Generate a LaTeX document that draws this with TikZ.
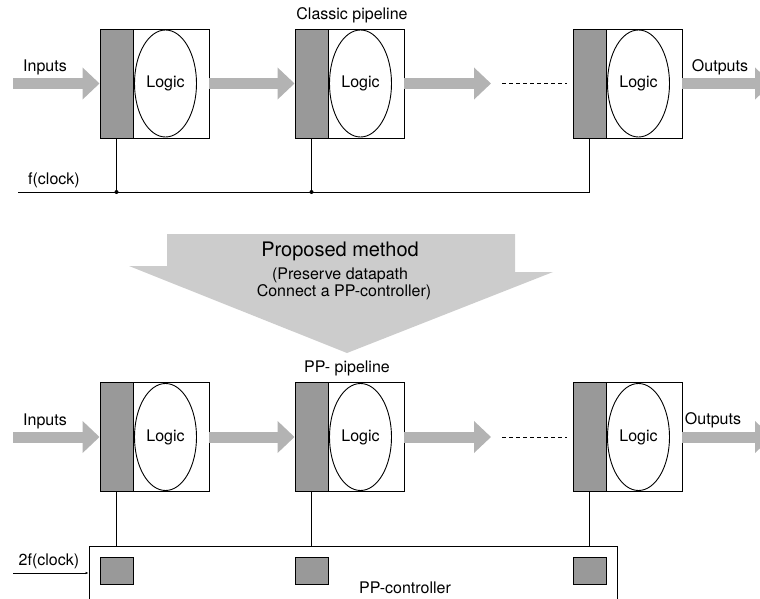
\documentclass[tikz,border=0pt]{standalone}
\usepackage{fontspec}
\setmainfont{TeX Gyre Heros}
\usetikzlibrary{arrows.meta,shapes.geometric}
\definecolor{regray}{HTML}{999999}
\definecolor{fatgray}{HTML}{B3B3B3}
\definecolor{biggray}{HTML}{CCCCCC}
\begin{document}
\begin{tikzpicture}[x=1pt,y=-1pt,
  stagebox/.style={draw,line width=0.9pt,minimum width=109pt,minimum height=109pt,inner sep=0pt},
  regbox/.style={draw,fill=regray,line width=0.9pt,minimum width=33pt,minimum height=109pt,inner sep=0pt},
  logic/.style={draw,ellipse,line width=0.9pt,minimum width=62pt,minimum height=107pt,inner sep=0pt,font=\fontsize{16}{19}\selectfont},
  fat/.style={draw=fatgray,line width=11pt,-{Triangle[length=17pt,width=31pt]}},
  lbl/.style={font=\fontsize{16}{19}\selectfont,inner sep=0pt},
  biglbl/.style={font=\fontsize{20}{24}\selectfont,inner sep=0pt},
  wire/.style={line width=0.8pt},
  dotted line/.style={line width=0.8pt,dash pattern=on 4pt off 3pt},
  jdot/.style={fill,circle,inner sep=0pt,minimum size=4pt},
  sq/.style={draw,fill=regray,line width=0.9pt,minimum width=33pt,minimum height=27pt,inner sep=0pt}
]
\useasboundingbox (0,0) rectangle (760,599);
\clip (0,0) rectangle (760,599);

% ---------- top: classic pipeline ----------
\foreach \i/\x in {1/100,2/295,3/573}{
  \node[stagebox] (t\i) at (\x+54.5,83.5) {};
  \node[regbox] (tr\i) at (\x+16.5,83.5) {};
  \node[logic] (tl\i) at (\x+65.5,83.5) {Logic};
}
\node[lbl] (tcap) at (352,15) {Classic pipeline};
\node[lbl] (tin) at (45,67) {Inputs};
\node[lbl] (tout) at (720,67) {Outputs};
\coordinate (tinstart) at (13,83.5);
\coordinate (t3out) at (491,83.5);
\coordinate (tdash1) at (502,83.5);
\coordinate (tdash2) at (567,83.5);
\coordinate (toutend) at (772,83.5);
\draw[fat] (tinstart) -- (t1.west);
\draw[fat] (t1.east) -- (t2.west);
\draw[fat] (t2.east) -- (t3out);
\draw[dotted line] (tdash1) -- (tdash2);
\draw[fat] (t3.east) -- (toutend);

\coordinate (clk) at (18,192);
\node[lbl] (clklbl) at (54,180) {f(clock)};
\draw[wire] (clk) -- (tr3.south |- clk) -- (tr3.south);
\draw[wire] (tr1.south) -- (tr1.south |- clk) node[jdot] (j1) {};
\draw[wire] (tr2.south) -- (tr2.south |- clk) node[jdot] (j2) {};

% ---------- big arrow ----------
\fill[biggray] (167,234) -- (515,234) -- (515,272) -- (553,272) -- (347,353) -- (129,266) -- (167,266) -- cycle;
\node[biglbl] (pm) at (340,251) {Proposed method};
\node[lbl] (pm1) at (340,275) {(Preserve datapath};
\node[lbl] (pm2) at (344,292) {Connect a PP-controller)};

% ---------- bottom: PP pipeline ----------
\foreach \i/\x in {1/100,2/295,3/573}{
  \node[stagebox] (b\i) at (\x+54.5,437) {};
  \node[regbox] (br\i) at (\x+16.5,437) {};
  \node[logic] (bl\i) at (\x+65.5,437) {Logic};
}
\node[lbl] (bcap) at (347,368) {PP- pipeline};
\node[lbl] (bin) at (45,421) {Inputs};
\node[lbl] (bout) at (713,420) {Outputs};
\coordinate (binstart) at (13,437);
\coordinate (b3out) at (491,437);
\coordinate (bdash1) at (502,437);
\coordinate (bdash2) at (567,437);
\coordinate (boutend) at (772,437);
\draw[fat] (binstart) -- (b1.west);
\draw[fat] (b1.east) -- (b2.west);
\draw[fat] (b2.east) -- (b3out);
\draw[dotted line] (bdash1) -- (bdash2);
\draw[fat] (b3.east) -- (boutend);

\node[draw,line width=0.9pt,minimum width=528pt,minimum height=80pt,inner sep=0pt] (ctrl) at (353,586) {};
\node[lbl] (ctrllbl) at (405,588) {PP-controller};
\node[sq] (q1) at (116.5,570.5) {};
\node[sq] (q2) at (311.5,570.5) {};
\node[sq] (q3) at (589.5,570.5) {};
\draw[wire] (br1.south) -- (br1.south |- ctrl.north);
\draw[wire] (br2.south) -- (br2.south |- ctrl.north);
\draw[wire] (br3.south) -- (br3.south |- ctrl.north);
\coordinate (clk2) at (13,573);
\node[lbl] (clk2lbl) at (49,561) {2f(clock)};
\draw[wire,-{Latex[length=3pt,width=2.5pt]}] (clk2) -- (ctrl.west |- clk2);
\end{tikzpicture}
\end{document}
